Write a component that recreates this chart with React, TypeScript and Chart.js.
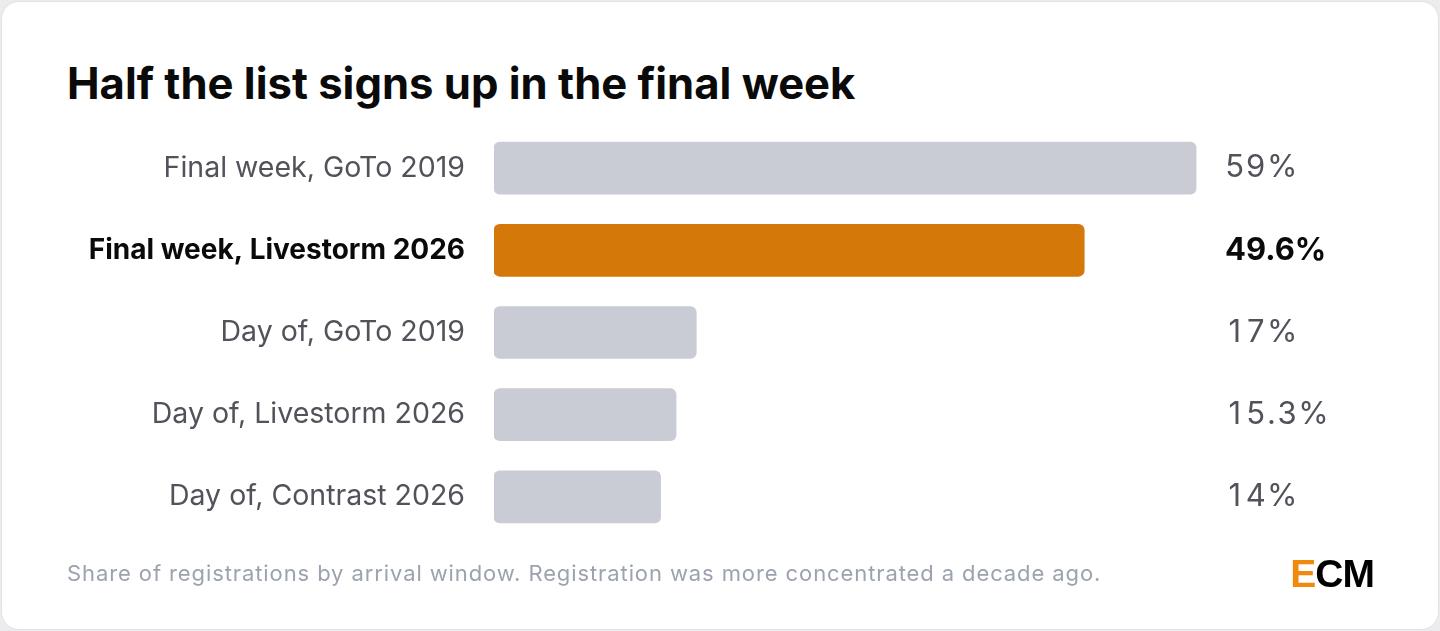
import { useEffect, useRef } from "react"
import { Chart, registerables } from "chart.js"

Chart.register(...registerables)

// Data
const categories = [
  "Final week, GoTo 2019",
  "Final week, Livestorm 2026",
  "Day of, GoTo 2019",
  "Day of, Livestorm 2026",
  "Day of, Contrast 2026",
]
const shares = [59, 49.6, 17, 15.3, 14]
const shareLabels = ["59%", "49.6%", "17%", "15.3%", "14%"]
const highlightIndex = 1

const GREY = "#c9ccd4"
const ORANGE = "#d4780a"
const TEXT_GREY = "#52525b"
const TEXT_DARK = "#0a0a0a"
const FONT = "Inter, 'Noto Sans', sans-serif"

// Value labels to the right of the plot area (grey ones use fixed-advance digits)
const valueLabels = {
  id: "valueLabels",
  afterDatasetsDraw(chart: Chart) {
    const { ctx, chartArea } = chart
    const meta = chart.getDatasetMeta(0)
    ctx.save()
    ctx.textAlign = "left"
    ctx.textBaseline = "middle"
    meta.data.forEach((bar: any, i: number) => {
      const hi = i === highlightIndex
      const x0 = chartArea.right + 17
      ctx.font = `${hi ? "700" : "400"} 31px ${FONT}`
      ctx.fillStyle = hi ? TEXT_DARK : TEXT_GREY
      if (hi) {
        ctx.fillText(shareLabels[i], x0, bar.y)
        return
      }
      const spacing = 1.4
      const digitW = ctx.measureText("0").width
      let x = x0
      for (const ch of shareLabels[i]) {
        const w = ctx.measureText(ch).width
        if (/[0-9]/.test(ch)) {
          ctx.fillText(ch, x + (digitW - w) / 2, bar.y)
          x += digitW + spacing
        } else {
          ctx.fillText(ch, x, bar.y)
          x += w + spacing
        }
      }
    })
    ctx.restore()
  },
}

function BarChart() {
  const canvasRef = useRef<HTMLCanvasElement>(null)
  const chartRef = useRef<Chart | null>(null)

  useEffect(() => {
    if (!canvasRef.current) return
    if (chartRef.current) chartRef.current.destroy()
    const ctx = canvasRef.current.getContext("2d")
    if (!ctx) return

    chartRef.current = new Chart(ctx, {
      type: "bar",
      data: {
        labels: categories,
        datasets: [
          {
            data: shares,
            backgroundColor: shares.map((_, i) => (i === highlightIndex ? ORANGE : GREY)),
            borderRadius: 6,
            borderSkipped: false,
            barThickness: 52,
          },
        ],
      },
      options: {
        indexAxis: "y",
        animation: false,
        responsive: true,
        maintainAspectRatio: false,
        layout: { padding: { left: 0, right: 232, top: 127, bottom: 93 } },
        plugins: {
          legend: { display: false },
          tooltip: { enabled: false },
        },
        scales: {
          x: {
            display: false,
            min: 0,
            max: 60,
          },
          y: {
            afterFit(scale: any) {
              scale.width = 494
            },
            grid: { display: false, drawTicks: false },
            border: { display: false },
            ticks: {
              padding: 29,
              color: (c: any) => (c.index === highlightIndex ? TEXT_DARK : TEXT_GREY),
              font: (c: any) => ({
                family: FONT,
                size: c.index === highlightIndex ? 28 : 28.5,
                weight: c.index === highlightIndex ? "bold" : "normal",
              }),
            },
          },
        },
      },
      plugins: [valueLabels],
    })

    return () => {
      if (chartRef.current) {
        chartRef.current.destroy()
        chartRef.current = null
      }
    }
  }, [])

  return (
    <div style={{ position: "absolute", left: 0, top: 0, width: 1440, height: 631 }}>
      <canvas ref={canvasRef}></canvas>
    </div>
  )
}

export default function App() {
  useEffect(() => {
    document.body.style.margin = "0"
  }, [])

  return (
    <div
      style={{
        position: "relative",
        width: 1440,
        height: 631,
        background: "#ececef",
        fontFamily: FONT,
        overflow: "hidden",
      }}
    >
      <div
        style={{
          position: "absolute",
          left: 1,
          top: 1,
          right: 1,
          bottom: 1,
          background: "#fff",
          border: "1px solid #e2e2e6",
          borderRadius: 18,
        }}
      />
      <div
        style={{
          position: "absolute",
          left: 67,
          top: 62,
          fontSize: 43.6,
          fontWeight: 700,
          lineHeight: 1,
          color: TEXT_DARK,
          whiteSpace: "nowrap",
        }}
      >
        Half the list signs up in the final week
      </div>
      <BarChart />
      <div
        style={{
          position: "absolute",
          left: 67,
          top: 562,
          fontSize: 22,
          letterSpacing: 0.9,
          lineHeight: 1,
          color: "#9ca3af",
          whiteSpace: "nowrap",
        }}
      >
        Share of registrations by arrival window. Registration was more concentrated a decade ago.
      </div>
      <div
        style={{
          position: "absolute",
          right: 66,
          top: 554,
          fontFamily: "'Liberation Sans', Arial, sans-serif",
          fontSize: 39,
          fontWeight: 700,
          lineHeight: 1,
          letterSpacing: -1,
          color: "#000",
          whiteSpace: "nowrap",
        }}
      >
        <span style={{ color: "#f08a0c" }}>E</span>CM
      </div>
    </div>
  )
}
